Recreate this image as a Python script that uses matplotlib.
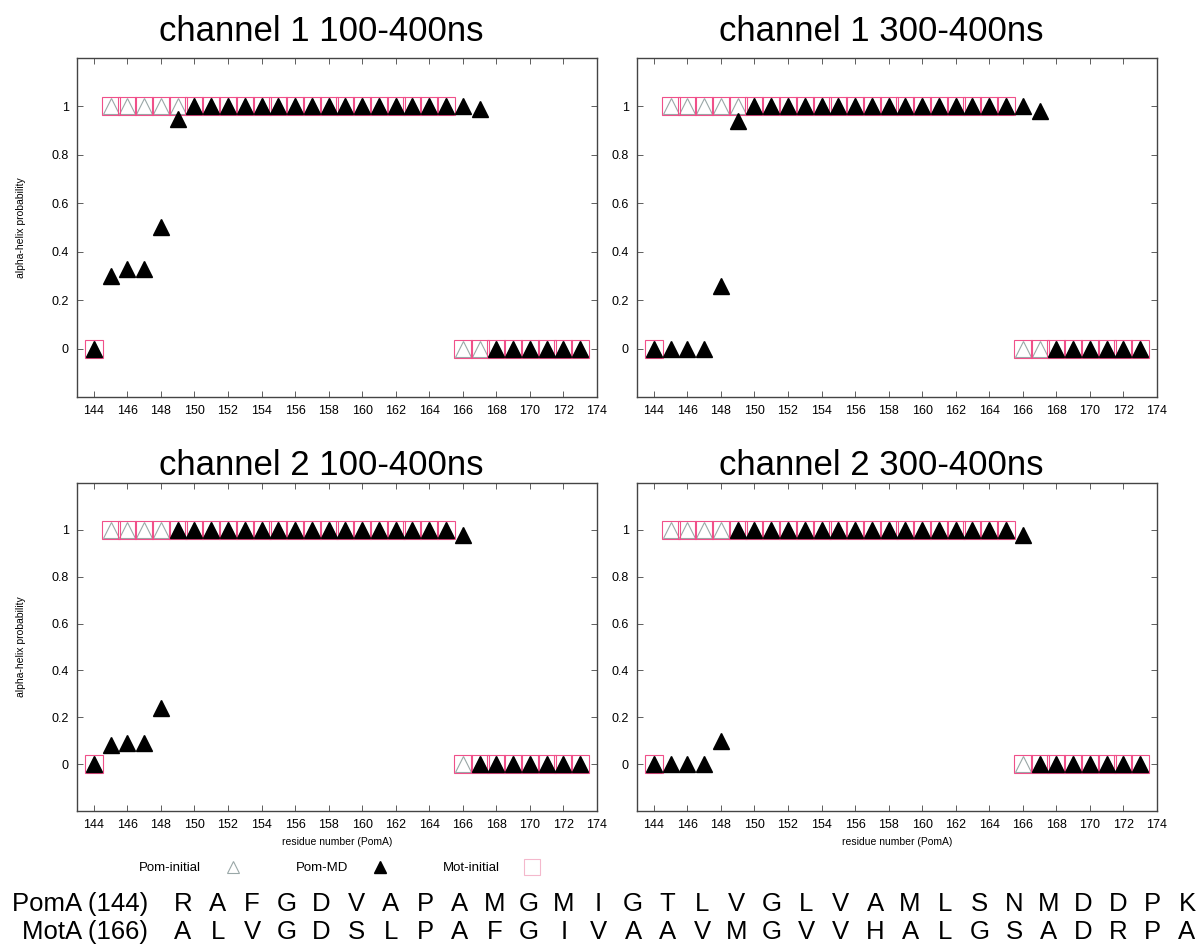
import numpy as np
import matplotlib.pyplot as plt
from matplotlib.lines import Line2D

plt.rcParams['font.family'] = ['Liberation Sans', 'DejaVu Sans']

residues = list(range(144, 174))

# initial structures (same for every panel)
pom_initial = [0] + [1] * 21 + [0] * 8
mot_initial = [0] + [1] * 21 + [0] * 8

# Pom-MD helix probabilities per panel
ch1_100_400 = [0.0, 0.30, 0.33, 0.33, 0.50, 0.95] + [1.0] * 17 + [0.99] + [0.0] * 6
ch1_300_400 = [0.0, 0.0, 0.0, 0.0, 0.26, 0.94] + [1.0] * 17 + [0.98] + [0.0] * 6
ch2_100_400 = [0.0, 0.08, 0.09, 0.09, 0.24] + [1.0] * 17 + [0.98] + [0.0] * 7
ch2_300_400 = [0.0, 0.0, 0.0, 0.0, 0.10] + [1.0] * 17 + [0.98] + [0.0] * 7

titles = ["channel 1 100-400ns", "channel 1 300-400ns",
          "channel 2 100-400ns", "channel 2 300-400ns"]
md_series = [ch1_100_400, ch1_300_400, ch2_100_400, ch2_300_400]

pom_seq = "RAFGDVAPAMGMIGTLVGLVAMLSNMDDPK"
mot_seq = "ALVGDSLPAFGIVAAVMGVVHALGSADRPA"

W, H = 1202, 949
fig = plt.figure(figsize=(W / 100, H / 100), dpi=100)

# pixel boxes (left, top, right, bottom)
boxes = [(77, 58, 597, 397), (637, 58, 1157, 397),
         (77, 483, 597, 811), (637, 483, 1157, 811)]

pink = '#f0508a'
for i, (l, t, r, b) in enumerate(boxes):
    ax = fig.add_axes([l / W, 1 - b / H, (r - l) / W, (b - t) / H])
    ax.plot(residues, pom_initial, ls='none', marker='^', ms=12,
            mfc='white', mec='#9aa8a8', mew=0.8)
    ax.plot(residues, mot_initial, ls='none', marker='s', ms=12.5,
            mfc='none', mec=pink, mew=0.8)
    ax.plot(residues, md_series[i], ls='none', marker='^', ms=12,
            mfc='black', mec='black')
    ax.set_xlim(143, 174)
    ax.set_ylim(-0.2, 1.2)
    ax.set_xticks(range(144, 175, 2))
    ax.set_yticks([0, 0.2, 0.4, 0.6, 0.8, 1])
    ax.set_yticklabels(['0', '0.2', '0.4', '0.6', '0.8', '1'])
    ax.tick_params(direction='in', top=True, right=True, labelsize=9,
                   length=4, width=0.6, color='#444444', pad=6)
    for s in ax.spines.values():
        s.set_color('#444444')
        s.set_linewidth(1.0)
    ax.set_title(titles[i], fontsize=25, x=0.47, pad=12 if i < 2 else 6)
    if i % 2 == 0:
        ax.set_ylabel('alpha-helix probability', fontsize=7.5, labelpad=18)
    if i >= 2:
        ax.set_xlabel('residue number (PomA)', fontsize=7.5, labelpad=4)

# legend row
handles = [Line2D([], [], ls='none', marker='^', ms=9, mfc='white', mec='#9aa8a8', mew=0.8),
           Line2D([], [], ls='none', marker='^', ms=9, mfc='black', mec='black'),
           Line2D([], [], ls='none', marker='s', ms=11, mfc='none', mec='#f4b8cc', mew=0.8)]
fig.legend(handles, ['Pom-initial', 'Pom-MD', 'Mot-initial'], ncol=3,
           loc='center', bbox_to_anchor=(342 / W, 1 - 868 / H), frameon=False,
           markerfirst=False, fontsize=9.5, columnspacing=3.8, handletextpad=1.4)

# sequence alignment
fig.text(148 / W, 1 - 904 / H, 'PomA (144)', fontsize=18.5, ha='right', va='center')
fig.text(148 / W, 1 - 932 / H, 'MotA (166)', fontsize=18.5, ha='right', va='center')
step = (1187 - 183) / (len(pom_seq) - 1)
for k, (p, m) in enumerate(zip(pom_seq, mot_seq)):
    x = (183 + k * step) / W
    fig.text(x, 1 - 904 / H, p, fontsize=18.5, ha='center', va='center')
    fig.text(x, 1 - 932 / H, m, fontsize=18.5, ha='center', va='center')

fig.savefig('out.png', dpi=100)
